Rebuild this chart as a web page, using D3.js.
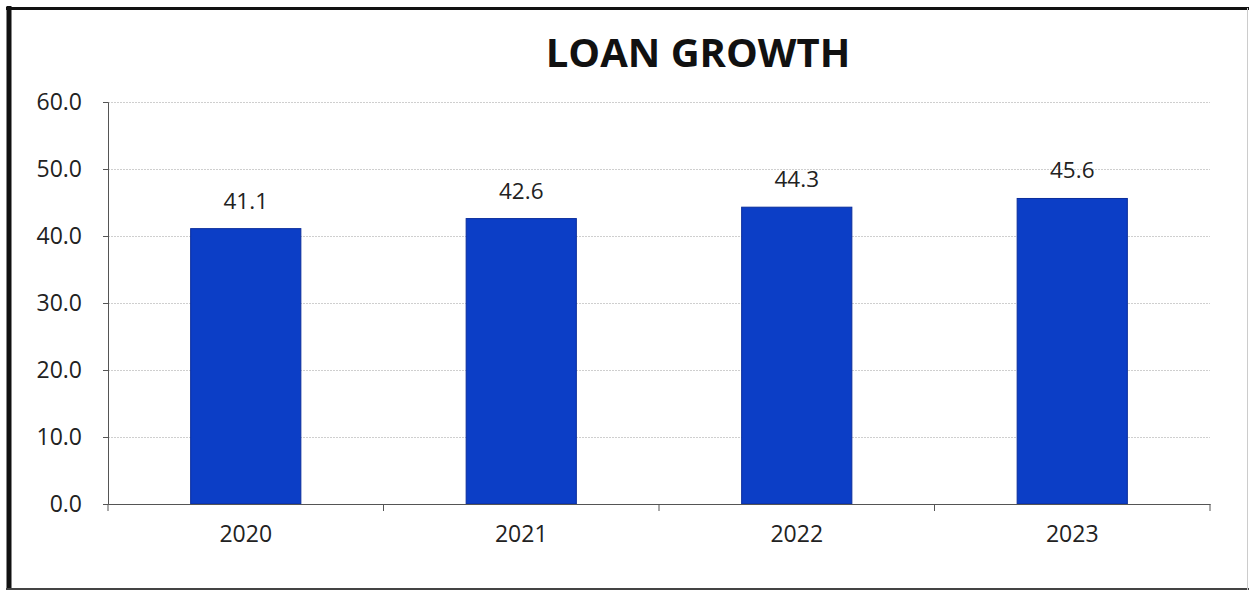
<!DOCTYPE html>
<html><head><meta charset="utf-8">
<script src="https://cdn.jsdelivr.net/npm/d3@7"></script>
<style>html,body{margin:0;padding:0;background:#fff;}svg{display:block;}</style>
</head><body>
<script>
const categories = ["2020","2021","2022","2023"];
const values = [41.1, 42.6, 44.3, 45.6];
const yTicks = [0,10,20,30,40,50,60];
const title = "LOAN GROWTH";

const W = 1249, H = 592;
const svg = d3.select("body").append("svg").attr("width", W).attr("height", H);
const font = "Open Sans, Liberation Sans, sans-serif";

// frame
svg.append("line").attr("x1",9).attr("x2",9).attr("y1",6).attr("y2",590).attr("stroke","#111").attr("stroke-width",5);
svg.append("line").attr("x1",6).attr("x2",1249).attr("y1",8.5).attr("y2",8.5).attr("stroke","#111").attr("stroke-width",3);
svg.append("line").attr("x1",6).attr("x2",1249).attr("y1",589).attr("y2",589).attr("stroke","#444").attr("stroke-width",2);
svg.append("line").attr("x1",1247.5).attr("x2",1247.5).attr("y1",8).attr("y2",590).attr("stroke","#ccc").attr("stroke-width",1);

const x = d3.scaleBand().domain(categories).range([108,1210]).padding(0);
const y = d3.scaleLinear().domain([0,60]).range([504,102]);

// gridlines
svg.append("g").selectAll("line").data(yTicks.filter(d=>d>0)).join("line")
  .attr("x1",108).attr("x2",1210).attr("y1",d=>y(d)+0.5).attr("y2",d=>y(d)+0.5)
  .attr("stroke","#cfcfcf").attr("stroke-width",1).attr("stroke-dasharray","2,1");

// bars
const bw = x.bandwidth()*0.40;
svg.append("g").selectAll("rect").data(values).join("rect")
  .attr("x",(d,i)=>x(categories[i])+x.bandwidth()/2-bw/2)
  .attr("width",bw)
  .attr("y",d=>y(d))
  .attr("height",d=>y(0)-y(d))
  .attr("fill","#0c3ec6").attr("stroke","#0a2d9c").attr("stroke-width",1);

// y axis
const ya = svg.append("g").attr("transform","translate(108,0)")
  .call(d3.axisLeft(y).tickValues(yTicks).tickFormat(d3.format(".1f")).tickSize(5).tickPadding(21));
ya.select(".domain").attr("stroke","#555");
ya.selectAll(".tick line").attr("stroke","#555");
ya.selectAll("text").attr("font-family",font).attr("font-size",23).attr("fill","#222");

// x axis
const xa = svg.append("g").attr("transform","translate(0,504)")
  .call(d3.axisBottom(x).tickSize(0).tickPadding(22));
xa.select(".domain").attr("stroke","#555");
xa.selectAll("text").attr("font-family",font).attr("font-size",23).attr("fill","#222");
// category boundary ticks
const bounds = categories.map(c=>x(c)).concat([x.range()[1]]);
xa.append("g").selectAll("line").data(bounds).join("line")
  .attr("x1",d=>d).attr("x2",d=>d).attr("y1",0).attr("y2",7).attr("stroke","#555");

// value labels
svg.append("g").selectAll("text").data(values).join("text")
  .attr("x",(d,i)=>x(categories[i])+x.bandwidth()/2)
  .attr("y",d=>y(d)-20)
  .attr("text-anchor","middle")
  .attr("font-family",font).attr("font-size",22.5).attr("fill","#222")
  .text(d=>d.toFixed(1));

// title
svg.append("text").attr("x",698).attr("y",67).attr("text-anchor","middle")
  .attr("font-family",font).attr("font-weight","bold").attr("font-size",40).attr("fill","#111")
  .text(title);
</script>
</body></html>
